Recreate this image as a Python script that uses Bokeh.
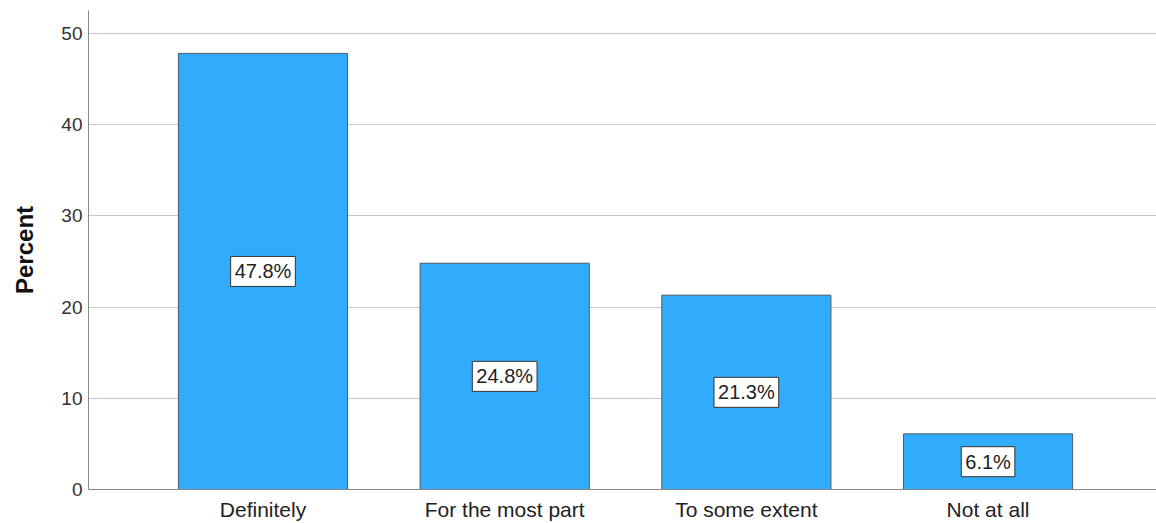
from bokeh.plotting import figure
from bokeh.models import ColumnDataSource, Range1d, FixedTicker
from bokeh.core.properties import value
from bokeh.embed import file_html
from bokeh.resources import INLINE

categories = ["Definitely", "For the most part", "To some extent", "Not at all"]
percents = [47.8, 24.8, 21.3, 6.1]
y_ticks = [0, 10, 20, 30, 40, 50]

positions = list(range(len(categories)))
labels = [f"{v:.1f}%" for v in percents]
source = ColumnDataSource(dict(
    x=positions,
    cat=categories,
    pct=percents,
    mid=[v / 2 for v in percents],
    lab=labels,
))

FONT = "Liberation Sans"

p = figure(
    width=1156, height=523,
    x_range=Range1d(-0.722, 3.697),
    y_range=Range1d(0, 52.5),
    output_backend="svg", toolbar_location=None,
    min_border_left=88, min_border_right=0, min_border_top=10, min_border_bottom=34,
)
p.outline_line_color = None
p.background_fill_color = "white"
p.border_fill_color = "white"

p.vbar(x="x", top="pct", width=0.70, source=source,
       fill_color="#31acfd", line_color="#4d5a66", line_width=1)

# boxed value labels in the middle of each bar
p.text(x="x", y="mid", text="lab", source=source,
       text_align="center", text_baseline="middle",
       text_font=value(FONT), text_font_size="20px", text_color="#222222",
       background_fill_color="white", border_line_color="#333333", border_line_width=1,
       padding=4)

# grid
p.xgrid.grid_line_color = None
p.ygrid.grid_line_color = "#c8c8c8"
p.ygrid.grid_line_width = 1

# y axis
p.yaxis.ticker = FixedTicker(ticks=y_ticks)
p.yaxis.axis_label = "Percent"
p.yaxis.axis_label_text_font = FONT
p.yaxis.axis_label_text_font_style = "bold"
p.yaxis.axis_label_text_font_size = "24px"
p.yaxis.axis_label_text_color = "#111111"
p.yaxis.axis_label_standoff = 20
p.yaxis.major_label_text_font = FONT
p.yaxis.major_label_text_font_size = "19px"
p.yaxis.major_label_text_color = "#333333"
p.yaxis.major_label_standoff = 6
p.yaxis.major_tick_out = 0
p.yaxis.major_tick_in = 0
p.yaxis.minor_tick_out = 0
p.yaxis.minor_tick_in = 0
p.yaxis.axis_line_color = "#8a8a8a"

# x axis with category names
p.xaxis.ticker = FixedTicker(ticks=positions)
p.xaxis.major_label_overrides = {i: c for i, c in zip(positions, categories)}
p.xaxis.major_label_text_font = FONT
p.xaxis.major_label_text_font_size = "21px"
p.xaxis.major_label_text_color = "#222222"
p.xaxis.major_label_standoff = 8
p.xaxis.major_tick_out = 0
p.xaxis.major_tick_in = 0
p.xaxis.minor_tick_out = 0
p.xaxis.minor_tick_in = 0
p.xaxis.axis_line_color = "#8a8a8a"

open("out.html", "w").write(file_html(p, INLINE))
